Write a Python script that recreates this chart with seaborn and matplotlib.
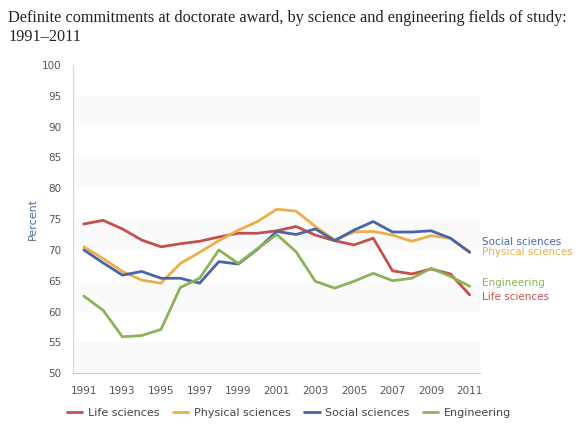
import numpy as np
import pandas as pd
import matplotlib
matplotlib.use("Agg")
import matplotlib.pyplot as plt
from matplotlib.lines import Line2D
import seaborn as sb

years = list(range(1991, 2012))
life = [74.2, 74.8, 73.4, 71.6, 70.5, 71.0, 71.4, 72.1, 72.7, 72.7, 73.1,
        73.8, 72.4, 71.5, 70.8, 71.9, 66.6, 66.1, 66.9, 66.1, 62.7]
physical = [70.5, 68.6, 66.5, 65.1, 64.6, 67.8, 69.6, 71.5, 73.2, 74.6, 76.6,
            76.3, 73.8, 71.6, 72.9, 73.0, 72.4, 71.4, 72.3, 71.9, 69.7]
social = [70.0, 67.9, 65.9, 66.5, 65.4, 65.4, 64.6, 68.1, 67.7, 70.1, 73.0,
          72.5, 73.4, 71.5, 73.2, 74.6, 72.9, 72.9, 73.1, 71.9, 69.6]
engineering = [62.5, 60.2, 55.9, 56.1, 57.1, 63.9, 65.4, 70.0, 67.8, 70.2, 72.5,
               69.7, 64.9, 63.8, 64.9, 66.2, 65.0, 65.4, 67.0, 65.7, 64.1]

fields = ['Life sciences', 'Physical sciences', 'Social sciences', 'Engineering']
colors = ['#c4504c', '#ecae48', '#4a64a8', '#8cb356']
yticks = list(range(50, 101, 5))
xticks = list(range(1991, 2012, 2))


def main():
    df = pd.DataFrame({'Year': years, fields[0]: life, fields[1]: physical,
                       fields[2]: social, fields[3]: engineering})
    df = df.melt(id_vars='Year', var_name='Field', value_name='Percent')
    palette = dict(zip(fields, colors))

    sb.set_style('white')
    fig = plt.figure(figsize=(5.78, 4.25), dpi=100)
    ax = fig.add_axes([0.126, 0.122, 0.704, 0.725])

    # faint alternating bands
    for lo in range(50, 100, 10):
        ax.axhspan(lo, lo + 5, color='#fafafa', lw=0, zorder=0)

    sb.lineplot(data=df, x='Year', y='Percent', hue='Field', palette=palette,
                hue_order=fields, lw=2, ax=ax, legend=False)

    ax.set_ylim(50, 100)
    ax.set_xlim(1990.43, 2011.52)
    ax.set_yticks(yticks)
    ax.set_xticks(xticks)
    ax.set_xticklabels([str(x) for x in xticks])
    ax.tick_params(axis='both', labelsize=7.5, colors='#555555')
    ax.tick_params(axis='x', direction='out', length=5, width=0.8,
                   color='#c0d0e0', pad=4)
    ax.tick_params(axis='y', length=0, pad=8)
    ax.set_xlabel('')
    ax.set_ylabel('Percent', color='#4d6d99', fontsize=8, labelpad=3)
    for side in ['top', 'right']:
        ax.spines[side].set_visible(False)
    ax.spines['left'].set_color('#d8d8d8')
    ax.spines['left'].set_linewidth(0.8)
    ax.spines['bottom'].set_color('#c0d0e0')
    ax.spines['bottom'].set_linewidth(0.8)

    # end labels
    label_y = {'Social sciences': 71.3, 'Physical sciences': 69.6,
               'Engineering': 64.6, 'Life sciences': 62.4}
    for name, y in label_y.items():
        ax.text(2011.65, y, name, color=palette[name], fontsize=7.5,
                va='center', ha='left', clip_on=False)

    handles = [Line2D([], [], color=c, lw=2) for c in colors]
    fig.legend(handles, fields, loc='center', bbox_to_anchor=(0.5, 0.028),
               ncol=4, frameon=False, fontsize=8, handlelength=1.4,
               handletextpad=0.5, columnspacing=1.2, labelcolor='#444444')

    fig.text(0.014, 0.958, 'Definite commitments at doctorate award, by science '
             'and engineering fields of study:', family='Liberation Serif',
             fontsize=11.7, color='#222222', va='center')
    fig.text(0.014, 0.914, '1991\u20132011', family='Liberation Serif',
             fontsize=11.7, color='#222222', va='center')

    fig.savefig('out.png', dpi=100)


if __name__ == '__main__':
    main()
